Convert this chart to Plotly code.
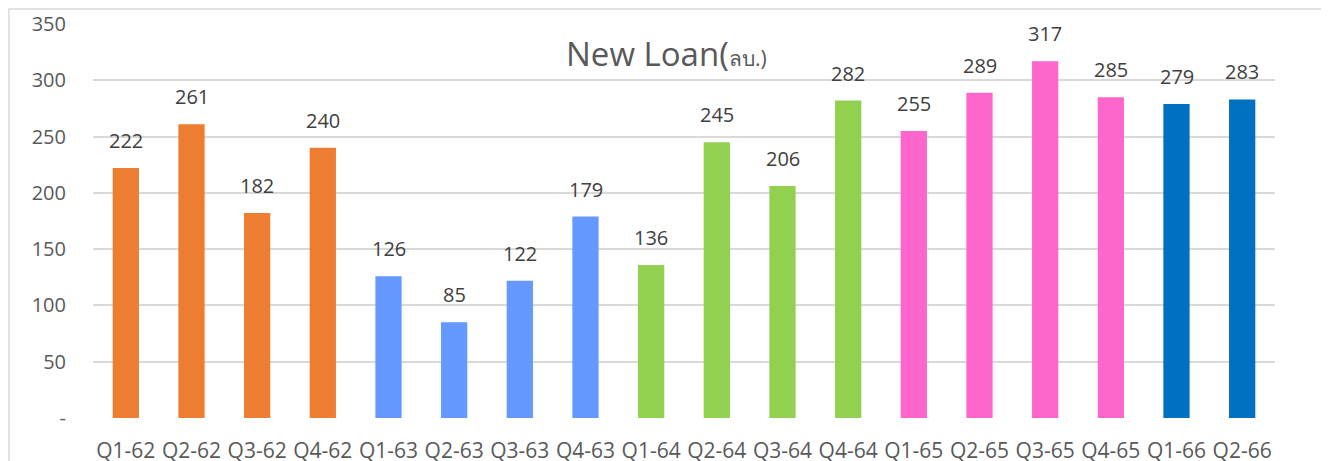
import plotly.graph_objects as go

categories = ["Q1-62", "Q2-62", "Q3-62", "Q4-62", "Q1-63", "Q2-63", "Q3-63", "Q4-63",
              "Q1-64", "Q2-64", "Q3-64", "Q4-64", "Q1-65", "Q2-65", "Q3-65", "Q4-65",
              "Q1-66", "Q2-66"]
values = [222, 261, 182, 240, 126, 85, 122, 179, 136, 245, 206, 282, 255, 289, 317, 285, 279, 283]
year_colors = {"62": "#ED7D31", "63": "#6699FF", "64": "#92D050", "65": "#FF66CC", "66": "#0070C0"}
colors = [year_colors[c[-2:]] for c in categories]
tick_vals = [0, 50, 100, 150, 200, 250, 300, 350]
tick_text = ["-", "50", "100", "150", "200", "250", "300", "350"]

FONT = "Open Sans"

fig = go.Figure()
fig.add_trace(go.Bar(x=categories, y=values, marker=dict(color=colors, line=dict(width=0)),
                     width=0.4, cliponaxis=False, hoverinfo="x+y"))

for c, v in zip(categories, values):
    fig.add_annotation(x=c, y=v, text=str(v), showarrow=False, yanchor="bottom", yshift=12,
                       font=dict(family=FONT, size=20, color="#404040"))

fig.add_annotation(xref="paper", yref="paper", x=0.4848, y=0.926, xanchor="center", yanchor="middle",
                   text="New Loan(<span style='font-size:21px'>ลบ.)</span>", showarrow=False,
                   font=dict(family=FONT, size=33, color="#595959"))

fig.add_shape(type="rect", xref="paper", yref="paper", x0=-0.0711, x1=1.0406, y0=-0.3, y1=1.038,
              line=dict(color="#D9D9D9", width=1.5), fillcolor="rgba(0,0,0,0)", layer="below")

fig.update_layout(
    width=1321, height=453,
    margin=dict(l=85, r=54, t=16, b=43),
    paper_bgcolor="white", plot_bgcolor="white",
    showlegend=False,
    font=dict(family=FONT, color="#595959", size=20),
    xaxis=dict(showgrid=False, showline=False, ticks="", tickfont=dict(size=21, color="#595959"),
               range=[-0.5, 17.5], ticklabelstandoff=18, automargin=False),
    yaxis=dict(range=[0, 350], tickvals=tick_vals, ticktext=tick_text, showgrid=True,
               gridcolor="#D9D9D9", gridwidth=1.5, zeroline=False, showline=False,
               ticklabelstandoff=26, tickfont=dict(size=20, color="#595959"), automargin=False),
    bargap=0.6,
)

fig.write_html("out.html")
